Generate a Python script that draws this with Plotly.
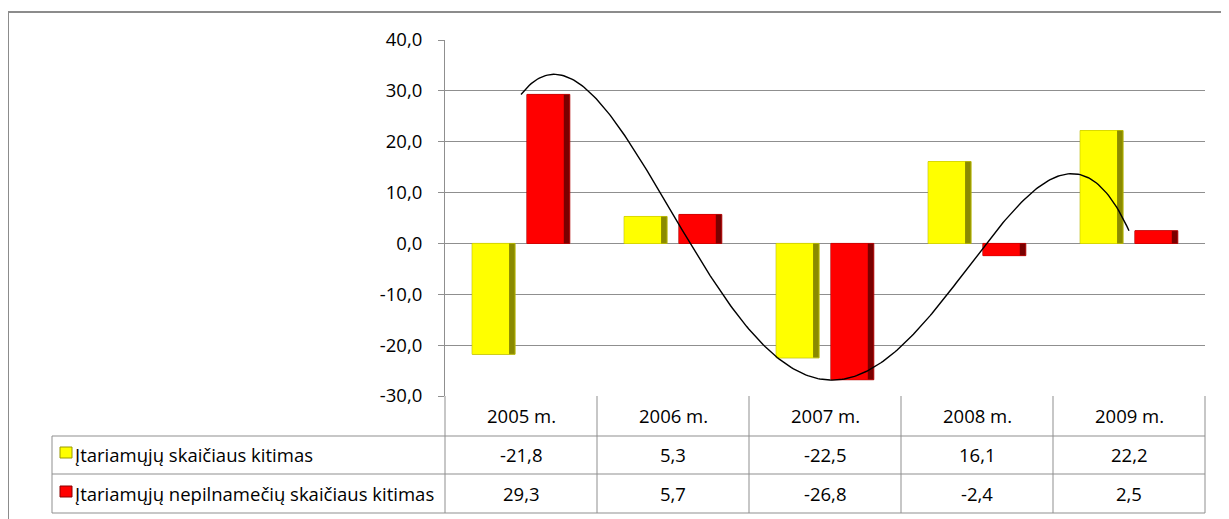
import numpy as np
import plotly.graph_objects as go

categories = ["2005 m.", "2006 m.", "2007 m.", "2008 m.", "2009 m."]
series_names = ["Įtariamųjų skaičiaus kitimas", "Įtariamųjų nepilnamečių skaičiaus kitimas"]
suspects = [-21.8, 5.3, -22.5, 16.1, 22.2]
juveniles = [29.3, 5.7, -26.8, -2.4, 2.5]
y_ticks = [-30, -20, -10, 0, 10, 20, 30, 40]

# page offset (browser body margin)
OX, OY = 8, 8
W, H = 1229 - OX, 519 - OY
L, R, T, B = 445 - OX, 1205 - OX, 40 - OY, 396 - OY
GRID = "#8f8f8f"
FONT = "Open Sans"
FS = 18.5


def xp(px):
    return (px - OX - L) / (R - L)


def yp(py):
    return (B - (py - OY)) / (B - T)


idx = np.arange(len(categories))
bw = 0.282
off = 0.18

fig = go.Figure()

styles = [
    (suspects, -off, "#FFFF00", "#8a8a00", "#b5b500"),
    (juveniles, off, "#FF0000", "#7a0000", "#b00000"),
]
for (vals, o, bright, dark, edge), name in zip(styles, series_names):
    fig.add_trace(go.Bar(
        x=idx + o, y=vals, width=bw, marker=dict(color=dark, line=dict(color=edge, width=1)),
        showlegend=False, hoverinfo="skip"))
    fig.add_trace(go.Bar(
        x=idx + o - bw * 0.07, y=vals, width=bw * 0.86,
        marker=dict(color=bright, line=dict(width=0)),
        name=name, showlegend=False))

# polynomial trendline (order 4) of the juvenile series, as in the source chart
coef = np.polyfit(idx, juveniles, 4)
xs = np.linspace(0, len(categories) - 1, 300)
fig.add_trace(go.Scatter(x=xs, y=np.polyval(coef, xs), mode="lines",
                         line=dict(color="black", width=1.4), showlegend=False,
                         hoverinfo="skip"))

shapes = []
line = dict(color=GRID, width=1)
# outer chart border
shapes.append(dict(type="line", xref="paper", yref="paper", x0=xp(8), x1=xp(1240), y0=yp(12), y1=yp(12),
                   line=dict(color="#8c8c8c", width=2)))
shapes.append(dict(type="line", xref="paper", yref="paper", x0=xp(8), x1=xp(8), y0=yp(12), y1=yp(530),
                   line=dict(color="#8c8c8c", width=2)))
# data table grid
row_y = [396, 436, 474, 513]
for ry in row_y[1:]:
    shapes.append(dict(type="line", xref="paper", yref="paper", x0=xp(52), x1=xp(1205), y0=yp(ry), y1=yp(ry), line=line))
shapes.append(dict(type="line", xref="paper", yref="paper", x0=xp(52), x1=xp(52), y0=yp(436), y1=yp(513), line=line))
n = len(categories)
for k in range(n + 1):
    xk = 445 + (1205 - 445) * k / n
    shapes.append(dict(type="line", xref="paper", yref="paper", x0=xp(xk), x1=xp(xk), y0=yp(396), y1=yp(513), line=line))
# legend keys
shapes.append(dict(type="rect", xref="paper", yref="paper", x0=xp(60), x1=xp(72), y0=yp(447), y1=yp(458),
                   fillcolor="#FFFF00", line=dict(color="#9a9a00", width=1)))
shapes.append(dict(type="rect", xref="paper", yref="paper", x0=xp(60), x1=xp(72), y0=yp(486), y1=yp(497),
                   fillcolor="#FF0000", line=dict(color="#8a0000", width=1)))

ann = []
font = dict(family=FONT, size=FS, color="black")
row_c = [(row_y[i] + row_y[i + 1]) / 2 for i in range(3)]
for k, c in enumerate(categories):
    xc = 445 + (1205 - 445) * (k + 0.5) / n
    ann.append(dict(xref="paper", yref="paper", x=xp(xc), y=yp(row_c[0]), text=c, showarrow=False,
                    font=font, xanchor="center", yanchor="middle"))
    for r, vals in enumerate([suspects, juveniles]):
        ann.append(dict(xref="paper", yref="paper", x=xp(xc), y=yp(row_c[r + 1]),
                        text=f"{vals[k]:.1f}".replace(".", ","), showarrow=False,
                        font=font, xanchor="center", yanchor="middle"))
for r, name in enumerate(series_names):
    ann.append(dict(xref="paper", yref="paper", x=xp(73), y=yp(row_c[r + 1]), text=name, showarrow=False,
                    font=font, xanchor="left", yanchor="middle"))

fig.update_layout(
    width=W, height=H,
    margin=dict(l=L, r=W - R, t=T, b=H - B, pad=0),
    paper_bgcolor="white", plot_bgcolor="white",
    barmode="overlay",
    font=font,
    shapes=shapes,
    annotations=ann,
    xaxis=dict(range=[-0.5, n - 0.5], showticklabels=False, showgrid=False, zeroline=False,
               showline=False, fixedrange=True),
    yaxis=dict(range=[-30, 40], tickvals=y_ticks,
               ticktext=[f"{v:.1f}".replace(".", ",") for v in y_ticks],
               showgrid=True, gridcolor=GRID,
               gridwidth=1, zeroline=False, showline=True, linecolor=GRID, linewidth=1,
               ticks="outside", ticklen=6, tickcolor=GRID, ticklabelstandoff=12,
               tickfont=font),
)

fig.write_html("out.html")
